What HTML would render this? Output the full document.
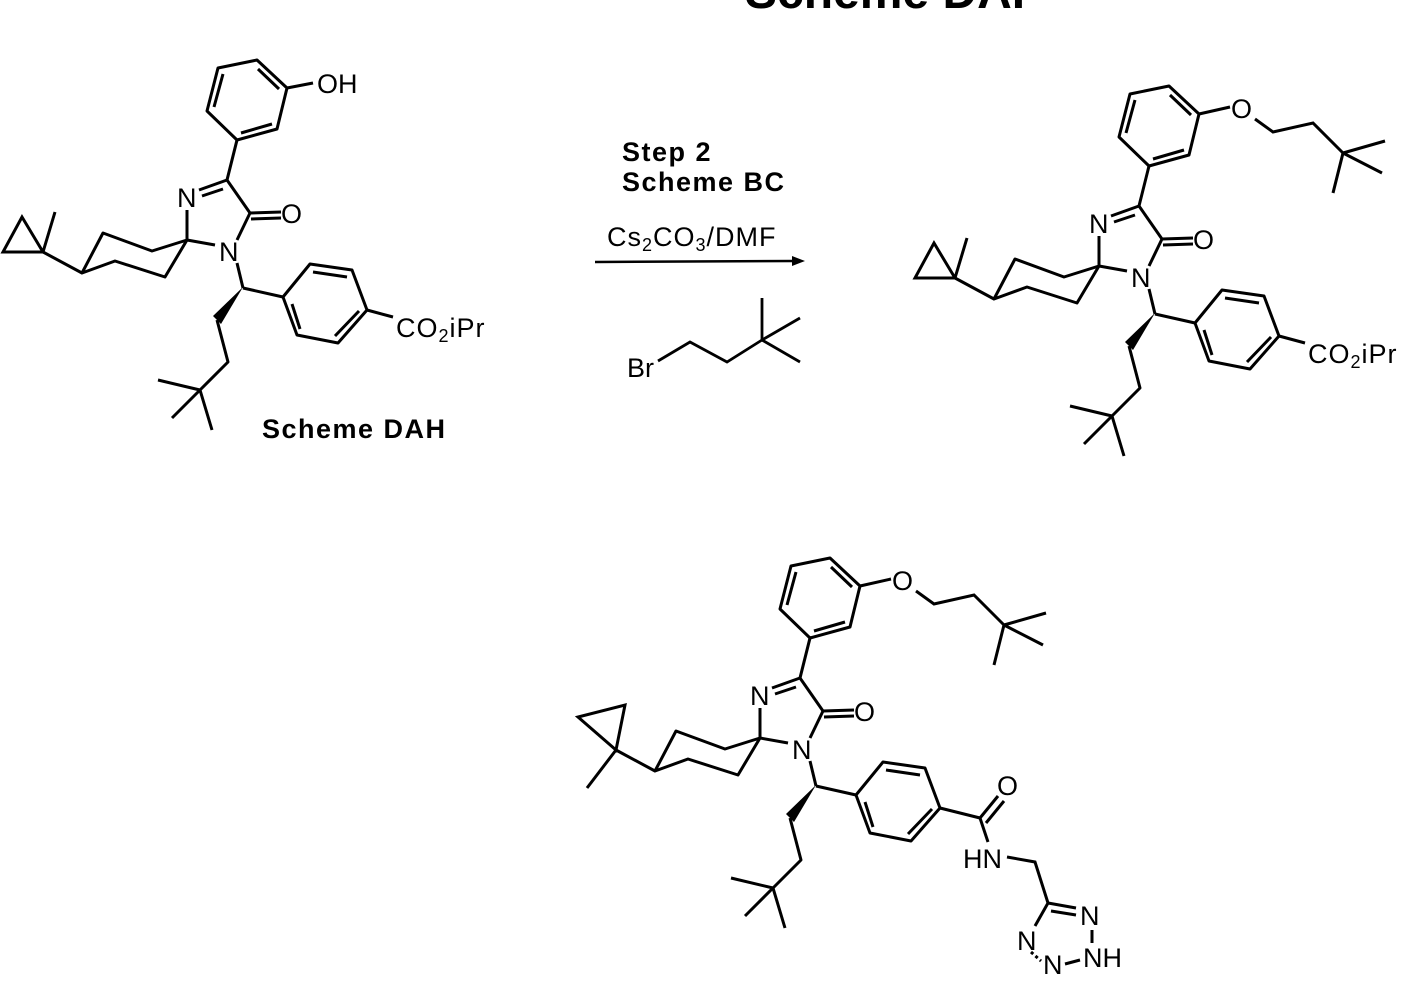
<!DOCTYPE html>
<html><head><meta charset="utf-8"><style>
html,body{margin:0;padding:0;background:#fff;}
svg{display:block;}
text{font-family:"Liberation Sans",Arial,sans-serif;fill:#000;}
.a{font-size:27px;}
.b{font-size:27px;font-weight:bold;}
</style></head><body>
<svg width="1425" height="1000" viewBox="0 0 1425 1000" xmlns="http://www.w3.org/2000/svg">
<defs>
<g id="core" fill="none" stroke="#000" stroke-width="3" stroke-linejoin="round">
<polygon points="218,68 257,60 287,88 277,129 237,140 207,111"/>
<line x1="258" y1="69" x2="279" y2="89"/>
<line x1="214" y1="107" x2="223" y2="74"/>
<line x1="241" y1="133" x2="272" y2="124"/>
<line x1="237" y1="140" x2="227" y2="180"/>
<line x1="227" y1="180" x2="199" y2="190"/>
<line x1="223" y1="189" x2="202" y2="196"/>
<line x1="187" y1="210" x2="187" y2="240"/>
<line x1="227" y1="180" x2="250" y2="213"/>
<line x1="250" y1="213" x2="281" y2="212"/>
<line x1="251" y1="219" x2="281" y2="218"/>
<line x1="250" y1="213" x2="237" y2="240"/>
<line x1="187" y1="240" x2="215" y2="245"/>
<polyline points="187,240 152,251 103,233 82,273 115,261 165,277 187,240"/>
<line x1="82" y1="273" x2="43" y2="252"/>
<line x1="237" y1="263" x2="243" y2="288"/>
<line x1="243" y1="288" x2="283" y2="297"/>
<polygon points="283,297 310,264 352,270 367,310 338,343 297,335"/>
<line x1="313" y1="272" x2="347" y2="277"/>
<line x1="359" y1="311" x2="335" y2="336"/>
<line x1="292" y1="304" x2="300" y2="329"/>
<polyline points="217,320 228,362 200,390"/>
<line x1="200" y1="390" x2="158" y2="380"/>
<line x1="200" y1="390" x2="172" y2="418"/>
<line x1="200" y1="390" x2="212" y2="430"/>
</g>
<polygon id="wedge" points="243,287 213,316 221,324" fill="#000"/>
<g id="cpA" fill="none" stroke="#000" stroke-width="3"><polygon points="43,252 22,217 3,252"/><line x1="43" y1="252" x2="55" y2="212"/></g>
<g id="cpB" fill="none" stroke="#000" stroke-width="3"><polygon points="43,252 5,219 52,207"/><line x1="43" y1="252" x2="14" y2="290"/></g>
<g id="ether" fill="none" stroke="#000" stroke-width="3"><line x1="287" y1="88" x2="318" y2="81"/><polyline points="343,93 361,106 401,97 431,127"/><line x1="431" y1="127" x2="473" y2="115"/><line x1="431" y1="127" x2="470" y2="147"/><line x1="431" y1="127" x2="421" y2="167"/><line x1="367" y1="310" x2="393" y2="317"/></g>
</defs>

<text x="745" y="8" style="font-size:48px;font-weight:bold">Scheme DAI</text>

<g>
<use href="#core"/><use href="#wedge"/><use href="#cpA"/>
<line x1="287" y1="88" x2="313" y2="83" stroke="#000" stroke-width="3"/>
<line x1="367" y1="310" x2="393" y2="317" stroke="#000" stroke-width="3"/>
<text class="a" x="317" y="93">OH</text>
<text class="a" x="177" y="207">N</text>
<text class="a" x="219" y="261">N</text>
<text class="a" x="281" y="223">O</text>
<text class="a" x="396" y="337" style="letter-spacing:1px">CO<tspan style="font-size:18px" dy="5">2</tspan><tspan dy="-5">iPr</tspan></text>
<text class="b" x="262" y="438" style="letter-spacing:1.5px">Scheme DAH</text>
</g>

<text class="b" x="622" y="161" style="letter-spacing:1.5px">Step 2</text>
<text class="b" x="622" y="191" style="letter-spacing:1.5px">Scheme BC</text>
<text class="a" x="607" y="246" style="letter-spacing:1px">Cs<tspan style="font-size:18px" dy="5">2</tspan><tspan dy="-5">CO</tspan><tspan style="font-size:18px" dy="5">3</tspan><tspan dy="-5">/DMF</tspan></text>
<line x1="595" y1="262" x2="795" y2="261" stroke="#000" stroke-width="2.5"/>
<polygon points="805,261 792,256 792,266" fill="#000"/>
<text class="a" x="627" y="377">Br</text>
<g fill="none" stroke="#000" stroke-width="2.8">
<polyline points="658,361 690,342 727,362 762,340"/>
<line x1="762" y1="340" x2="762" y2="298"/>
<line x1="762" y1="340" x2="800" y2="318"/>
<line x1="762" y1="340" x2="800" y2="362"/>
</g>

<g transform="translate(912,26)">
<use href="#core"/><use href="#wedge"/><use href="#cpA"/><use href="#ether"/>
<text class="a" x="319" y="92">O</text>
<text class="a" x="177" y="207">N</text>
<text class="a" x="219" y="261">N</text>
<text class="a" x="281" y="223">O</text>
<text class="a" x="396" y="337" style="letter-spacing:1px">CO<tspan style="font-size:18px" dy="5">2</tspan><tspan dy="-5">iPr</tspan></text>
</g>

<g transform="translate(573,498)">
<use href="#core"/><use href="#wedge"/><use href="#cpB"/>
<g fill="none" stroke="#000" stroke-width="3">
<line x1="287" y1="88" x2="318" y2="81"/><polyline points="343,93 361,106 401,97 431,127"/><line x1="431" y1="127" x2="473" y2="115"/><line x1="431" y1="127" x2="470" y2="147"/><line x1="431" y1="127" x2="421" y2="167"/>
<line x1="367" y1="310" x2="407" y2="320"/>
<line x1="407" y1="320" x2="425" y2="298"/>
<line x1="413" y1="325" x2="431" y2="303"/>
<line x1="407" y1="320" x2="415" y2="344"/>
<polyline points="434,359 462,364 475,405"/>
<line x1="475" y1="405" x2="503" y2="410"/>
<line x1="478" y1="413" x2="503" y2="417"/>
<line x1="475" y1="405" x2="462" y2="428"/>
<line x1="519" y1="432" x2="519" y2="445"/>
<line x1="492" y1="466" x2="507" y2="462"/>
<line x1="458" y1="454" x2="468" y2="463" stroke-dasharray="3,3"/>
</g>
<text class="a" x="319" y="92">O</text>
<text class="a" x="177" y="207">N</text>
<text class="a" x="219" y="261">N</text>
<text class="a" x="281" y="223">O</text>
<text class="a" x="424" y="297">O</text>
<text class="a" x="390" y="370">HN</text>
<text class="a" x="507" y="427">N</text>
<text class="a" x="444" y="452">N</text>
<text class="a" x="470" y="476">N</text>
<text class="a" x="510" y="469">NH</text>
</g>
</svg>
</body></html>
